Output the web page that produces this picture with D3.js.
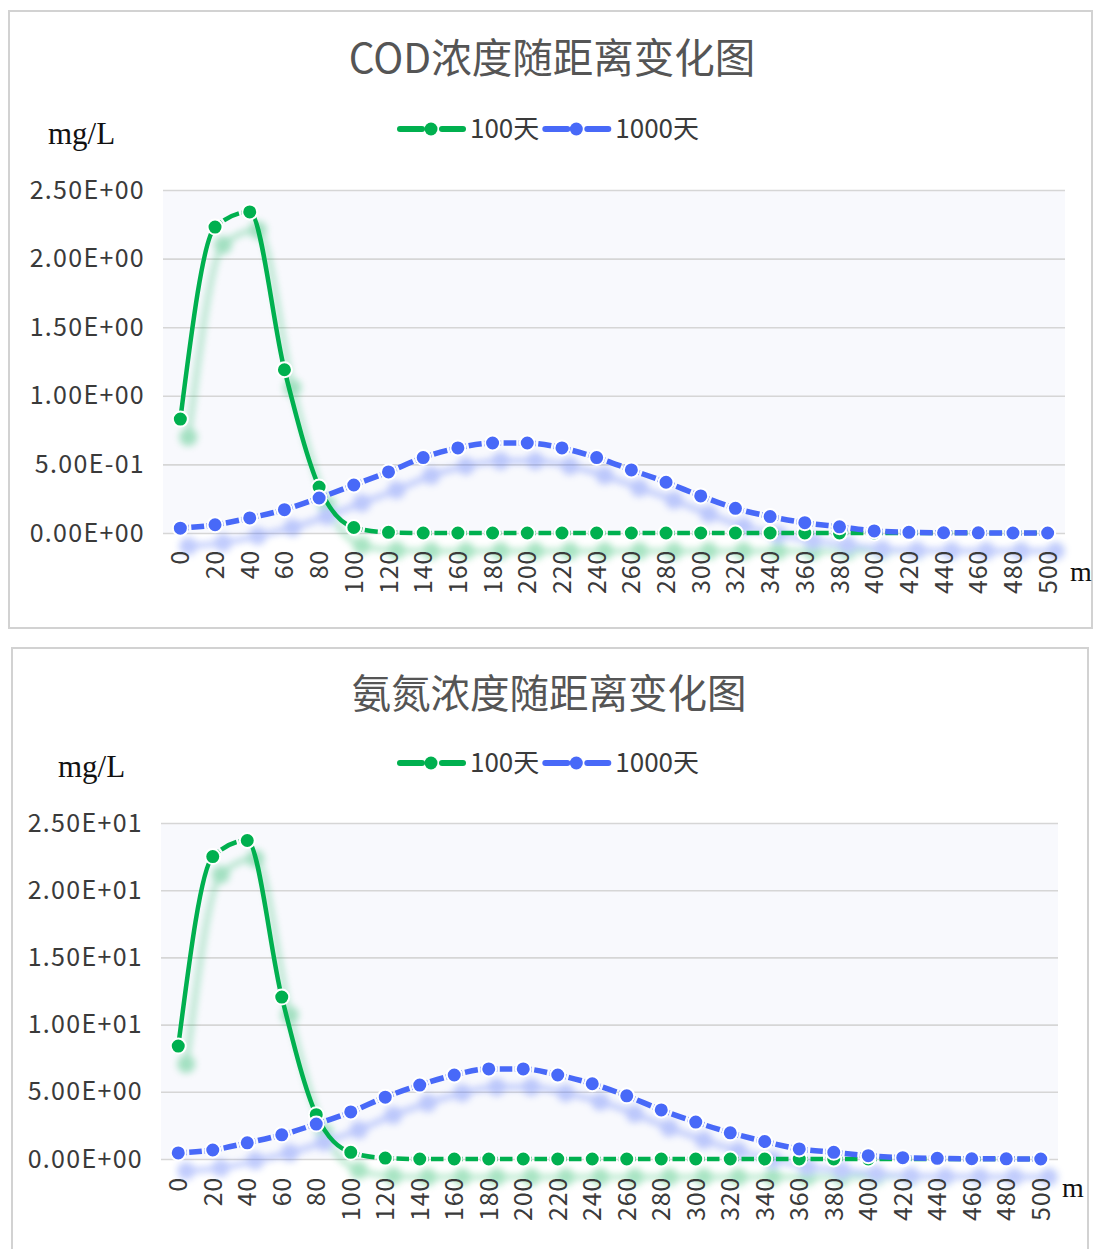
<!DOCTYPE html>
<html>
<head>
<meta charset="utf-8">
<script src="https://cdn.jsdelivr.net/npm/d3@7"></script>
<style>
  body { margin: 0; background: #fff; }
  svg { display: block; }
</style>
</head>
<body>
<svg id="chart" width="1093" height="1249"></svg>
<script>
// Distance from the source (m)
const distances = [0, 20, 40, 60, 80, 100, 120, 140, 160, 180, 200, 220, 240,
                   260, 280, 300, 320, 340, 360, 380, 400, 420, 440, 460, 480, 500];

const seriesNames = ["100天", "1000天"];

// COD concentration (mg/L)
const cod100 = [0.83, 2.23, 2.34, 1.19, 0.335, 0.04, 0.005, 0, 0, 0, 0, 0, 0,
                0, 0, 0, 0, 0, 0, 0, 0, 0, 0, 0, 0, 0];
const cod1000 = [0.035, 0.06, 0.11, 0.17, 0.255, 0.35, 0.445, 0.55, 0.62, 0.656, 0.656, 0.62, 0.55,
                 0.46, 0.37, 0.27, 0.18, 0.12, 0.075, 0.045, 0.015, 0.005, 0.002, 0.001, 0, 0];
const codTicks = [0, 0.5, 1.0, 1.5, 2.0, 2.5];

// Ammonia nitrogen concentration (mg/L)
const nh100 = [8.4, 22.5, 23.7, 12.05, 3.3, 0.5, 0.07, 0, 0, 0, 0, 0, 0,
               0, 0, 0, 0, 0, 0, 0, 0, 0, 0, 0, 0, 0];
const nh1000 = [0.45, 0.67, 1.2, 1.8, 2.6, 3.5, 4.6, 5.5, 6.25, 6.7, 6.7, 6.25, 5.6,
                4.7, 3.65, 2.75, 1.95, 1.3, 0.75, 0.5, 0.25, 0.1, 0.05, 0.02, 0.01, 0];
const nhTicks = [0, 5, 10, 15, 20, 25];

const COLORS = ["#00b04f", "#4869f8"];
const WIDTHS = [4.5, 5.5];
const MARKER_R = 7.5;
const FONT = "'Noto Sans CJK SC', 'Noto Sans', sans-serif";
const SERIF = "'Liberation Serif', 'DejaVu Serif', serif";

// Excel-style scientific notation: 5.00E-01
function sci(v) {
  const [m, e] = v.toExponential(2).split("e");
  const sign = e[0] === "-" ? "-" : "+";
  const mag = Math.abs(+e);
  return m + "E" + sign + String(mag).padStart(2, "0");
}

const svg = d3.select("#chart");
const defs = svg.append("defs");
defs.append("filter").attr("id", "soft")
  .attr("x", "-20%").attr("y", "-20%").attr("width", "140%").attr("height", "140%")
  .append("feGaussianBlur").attr("stdDeviation", 3.5);

// Long curve segments render solid; short ones get one dash between markers.
function segmentDash(path, pts, solidMin) {
  const node = path.node();
  const total = node.getTotalLength();
  const lens = pts.map(p => {
    let lo = 0, hi = total;
    for (let k = 0; k < 28; k++) {
      const mid = (lo + hi) / 2;
      if (node.getPointAtLength(mid).x < p[0]) lo = mid; else hi = mid;
    }
    return (lo + hi) / 2;
  });
  lens[0] = 0;
  const arr = [];
  const under = MARKER_R + 1;   // part hidden below each marker
  const gap = 2.5;
  for (let i = 0; i < lens.length - 1; i++) {
    const s = lens[i + 1] - lens[i];
    if (s > solidMin) {
      arr.push(s, 0);
    } else {
      const c = Math.max(s - 2 * under - 2 * gap, 4);
      const r = (s - c - 2 * gap) / 2;
      arr.push(r, gap, c, gap, r, 0);
    }
  }
  path.attr("stroke-dasharray", arr.map(v => v.toFixed(2)).join(" "));
}

function drawChart(cfg) {
  const g = svg.append("g");

  // panel frame
  g.append("rect")
    .attr("x", cfg.frame[0]).attr("y", cfg.frame[1])
    .attr("width", cfg.frame[2]).attr("height", cfg.frame[3])
    .attr("fill", "#fff").attr("stroke", "#d2d2d2").attr("stroke-width", 2);

  const x = d3.scaleBand().domain(distances).range([cfg.left, cfg.right]);
  const y = d3.scaleLinear().domain([0, cfg.ticks[cfg.ticks.length - 1]]).range([cfg.bottom, cfg.top]);
  const cx = d => x(d) + x.bandwidth() / 2;

  // plot area background
  g.append("rect")
    .attr("x", cfg.left).attr("y", cfg.top)
    .attr("width", cfg.right - cfg.left).attr("height", cfg.bottom - cfg.top)
    .attr("fill", "#f8f9fd");

  // value axis with gridlines
  const yAxis = d3.axisLeft(y).tickValues(cfg.ticks).tickFormat(sci)
    .tickSize(-(cfg.right - cfg.left)).tickPadding(18);
  const ya = g.append("g").attr("transform", `translate(${cfg.left},0)`).call(yAxis);
  ya.select(".domain").remove();
  ya.selectAll(".tick line").attr("stroke", "#d6d6d6").attr("stroke-width", 1.6);
  ya.selectAll(".tick text")
    .attr("fill", "#3a3a3a").style("font-family", FONT).style("font-size", "25px")
    .style("letter-spacing", "1.3px");

  // title
  g.append("text")
    .attr("x", cfg.titleX).attr("y", cfg.titleY)
    .attr("text-anchor", "middle").attr("fill", "#555")
    .style("font-family", FONT).style("font-size", cfg.titleSize)
    .text(cfg.title);

  // unit labels
  g.append("text").attr("x", cfg.unitX).attr("y", cfg.unitY)
    .attr("fill", "#111").style("font-family", SERIF).style("font-size", "31px")
    .text("mg/L");
  g.append("text").attr("x", cfg.mX).attr("y", cfg.mY)
    .attr("fill", "#111").style("font-family", SERIF).style("font-size", "28px")
    .text("m");

  // legend
  const lg = g.append("g").attr("transform", `translate(0,${cfg.legendY})`);
  let lx = cfg.legendX;
  seriesNames.forEach((name, i) => {
    lg.append("line").attr("x1", lx).attr("x2", lx + 22).attr("y1", 0).attr("y2", 0)
      .attr("stroke", COLORS[i]).attr("stroke-width", 6).attr("stroke-linecap", "round");
    lg.append("circle").attr("cx", lx + 31).attr("cy", 0).attr("r", 6.5).attr("fill", COLORS[i]);
    lg.append("line").attr("x1", lx + 42).attr("x2", lx + 63).attr("y1", 0).attr("y2", 0)
      .attr("stroke", COLORS[i]).attr("stroke-width", 6).attr("stroke-linecap", "round");
    const t = lg.append("text").attr("x", lx + 70).attr("y", 0).attr("dy", "0.36em")
      .attr("fill", "#3a3a3a").style("font-family", FONT).style("font-size", "26px")
      .text(name);
    lx = lx + 70 + t.node().getComputedTextLength() + 6;
  });

  const series = [cfg.s100, cfg.s1000];
  const line = d3.line()
    .x((d, i) => cx(distances[i]))
    .y(d => y(d))
    .curve(d3.curveMonotoneX);

  // soft drop shadows
  const sh = g.append("g").attr("transform", "translate(8,18)")
    .attr("filter", "url(#soft)").attr("opacity", 0.34);
  series.forEach((vals, i) => {
    sh.append("path").attr("d", line(vals)).attr("fill", "none")
      .attr("stroke", COLORS[i]).attr("stroke-width", WIDTHS[i]);
    sh.selectAll(null).data(vals).join("circle")
      .attr("cx", (d, j) => cx(distances[j])).attr("cy", d => y(d)).attr("r", 9)
      .attr("fill", COLORS[i]);
  });

  // category axis, rotated labels
  const xAxis = d3.axisBottom(x).tickSize(0);
  const xa = g.append("g").attr("transform", `translate(0,${cfg.bottom})`).call(xAxis);
  xa.select(".domain").remove();
  xa.selectAll(".tick text")
    .attr("transform", "rotate(-90)")
    .attr("x", -cfg.labelGap).attr("y", 0).attr("dy", "0.36em")
    .attr("text-anchor", "end")
    .attr("fill", "#3a3a3a").style("font-family", FONT).style("font-size", "25px")
    .style("letter-spacing", "0.8px");

  // series lines and markers
  series.forEach((vals, i) => {
    const p = g.append("path").attr("d", line(vals)).attr("fill", "none")
      .attr("stroke", COLORS[i]).attr("stroke-width", WIDTHS[i]);
    segmentDash(p, vals.map((d, j) => [cx(distances[j]), y(d)]), 46);
    g.selectAll(null).data(vals).join("circle")
      .attr("cx", (d, j) => cx(distances[j])).attr("cy", d => y(d)).attr("r", MARKER_R)
      .attr("fill", COLORS[i]).attr("stroke", "#fff").attr("stroke-width", 2);
  });
}

drawChart({
  frame: [9, 11, 1083, 617],
  left: 163, right: 1065, top: 190, bottom: 533,
  ticks: codTicks, s100: cod100, s1000: cod1000,
  title: "COD浓度随距离变化图", titleSize: "40.5px", titleX: 552, titleY: 73,
  legendX: 400, legendY: 129,
  unitX: 48, unitY: 144, mX: 1070, mY: 581,
  labelGap: 17
});

drawChart({
  frame: [12, 648, 1076, 620],
  left: 161, right: 1058, top: 823, bottom: 1159,
  ticks: nhTicks, s100: nh100, s1000: nh1000,
  title: "氨氮浓度随距离变化图", titleSize: "39.5px", titleX: 549, titleY: 708,
  legendX: 400, legendY: 763,
  unitX: 58, unitY: 777, mX: 1062, mY: 1197,
  labelGap: 18
});
</script>
</body>
</html>
